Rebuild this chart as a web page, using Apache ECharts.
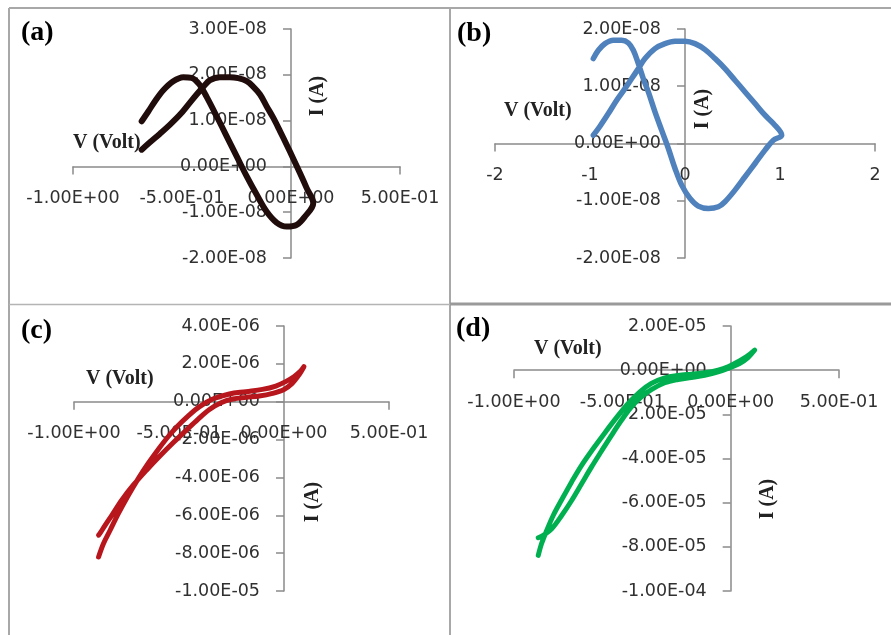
<!DOCTYPE html>
<html><head><meta charset="utf-8">
<script src="https://cdn.jsdelivr.net/npm/echarts@6/dist/echarts.min.js"></script>
<style>html,body{margin:0;padding:0;background:#fff}#c{width:891px;height:635px}</style>
</head><body><div id="c"></div>
<script>
// ---------- text ----------
const panelLabels = ['(a)', '(b)', '(c)', '(d)'];
const xAxisTitle = 'V (Volt)';
const yAxisTitle = 'I (A)';

// ---------- axis ranges / ticks ----------
const xRanges = [[-1, 0.5, 0.5], [-2, 2, 1], [-1, 0.5, 0.5], [-1, 0.5, 0.5]];
const yRanges = [[-2e-8, 3e-8, 1e-8], [-2e-8, 2e-8, 1e-8], [-1e-5, 4e-6, 2e-6], [-1e-4, 2e-5, 2e-5]];

// ---------- data (V in volts, I in amperes) ----------
// (a)
const aV = [-0.685,-0.654,-0.624,-0.586,-0.540,-0.494,-0.456,-0.420,-0.387,-0.341,-0.295,-0.249,-0.203,-0.157,-0.112,-0.066,-0.020,0.026,0.064,0.102,
            0.072,0.041,0.011,-0.020,-0.050,-0.081,-0.112,-0.142,-0.173,-0.203,-0.242,-0.280,-0.326,-0.372,-0.402,-0.433,-0.471,-0.509,-0.555,-0.601,-0.647,-0.685];
const aI = [0.985e-8,1.204e-8,1.423e-8,1.664e-8,1.861e-8,1.949e-8,1.934e-8,1.788e-8,1.518e-8,1.095e-8,0.657e-8,0.219e-8,-0.219e-8,-0.620e-8,-0.985e-8,-1.226e-8,-1.314e-8,-1.277e-8,-1.095e-8,-0.803e-8,
            -0.474e-8,-0.146e-8,0.161e-8,0.474e-8,0.766e-8,1.058e-8,1.314e-8,1.569e-8,1.737e-8,1.861e-8,1.927e-8,1.949e-8,1.949e-8,1.883e-8,1.737e-8,1.569e-8,1.350e-8,1.131e-8,0.912e-8,0.715e-8,0.526e-8,0.365e-8];
// (b)
const bV = [-0.965,-0.912,-0.842,-0.754,-0.667,-0.596,-0.544,-0.491,-0.439,-0.386,-0.316,-0.246,-0.175,-0.105,-0.035,0.053,0.140,0.246,0.351,0.421,0.526,0.632,0.737,0.842,0.930,1.018,
            0.930,0.842,0.737,0.632,0.526,0.421,0.316,0.211,0.105,0.0,-0.105,-0.211,-0.316,-0.421,-0.491,-0.561,-0.632,-0.719,-0.807,-0.895,-0.965];
const bI = [1.483e-8,1.628e-8,1.744e-8,1.802e-8,1.802e-8,1.756e-8,1.628e-8,1.395e-8,1.134e-8,0.901e-8,0.552e-8,0.233e-8,-0.087e-8,-0.436e-8,-0.727e-8,-0.959e-8,-1.093e-8,-1.134e-8,-1.105e-8,-1.017e-8,-0.814e-8,-0.581e-8,-0.349e-8,-0.116e-8,0.058e-8,0.145e-8,
            0.349e-8,0.494e-8,0.698e-8,0.901e-8,1.105e-8,1.308e-8,1.483e-8,1.640e-8,1.744e-8,1.785e-8,1.785e-8,1.744e-8,1.657e-8,1.483e-8,1.308e-8,1.134e-8,0.959e-8,0.756e-8,0.523e-8,0.302e-8,0.145e-8];
// (c)
const cV = [-0.883,-0.860,-0.828,-0.789,-0.741,-0.694,-0.647,-0.599,-0.552,-0.505,-0.457,-0.402,-0.339,-0.260,-0.181,-0.103,-0.039,0.008,0.047,0.079,0.095,
            0.071,0.039,0.0,-0.055,-0.118,-0.181,-0.244,-0.300,-0.355,-0.410,-0.465,-0.528,-0.591,-0.655,-0.718,-0.773,-0.820,-0.852,-0.875,-0.883];
const cI = [-8.20e-6,-7.50e-6,-6.79e-6,-5.91e-6,-4.94e-6,-4.06e-6,-3.26e-6,-2.52e-6,-1.85e-6,-1.27e-6,-0.76e-6,-0.26e-6,0.14e-6,0.41e-6,0.53e-6,0.65e-6,0.83e-6,1.06e-6,1.32e-6,1.62e-6,1.85e-6,
            1.41e-6,0.97e-6,0.65e-6,0.44e-6,0.30e-6,0.23e-6,0.14e-6,-0.05e-6,-0.41e-6,-0.93e-6,-1.50e-6,-2.17e-6,-2.87e-6,-3.62e-6,-4.41e-6,-5.20e-6,-6.00e-6,-6.53e-6,-6.93e-6,-7.05e-6];
// (d)
const dV = [-0.888,-0.873,-0.849,-0.819,-0.780,-0.734,-0.688,-0.634,-0.581,-0.527,-0.473,-0.419,-0.366,-0.304,-0.243,-0.181,-0.120,-0.058,-0.012,0.034,0.072,0.111,
            0.080,0.041,-0.005,-0.058,-0.120,-0.181,-0.243,-0.304,-0.366,-0.412,-0.458,-0.504,-0.550,-0.596,-0.642,-0.688,-0.734,-0.780,-0.826,-0.865,-0.888];
const dI = [-8.39e-5,-7.86e-5,-7.26e-5,-6.58e-5,-5.87e-5,-5.06e-5,-4.31e-5,-3.55e-5,-2.84e-5,-2.15e-5,-1.51e-5,-0.98e-5,-0.60e-5,-0.35e-5,-0.24e-5,-0.18e-5,-0.12e-5,0.0,0.15e-5,0.38e-5,0.60e-5,0.91e-5,
            0.57e-5,0.30e-5,0.11e-5,-0.08e-5,-0.23e-5,-0.33e-5,-0.42e-5,-0.57e-5,-0.88e-5,-1.21e-5,-1.66e-5,-2.27e-5,-2.95e-5,-3.66e-5,-4.38e-5,-5.14e-5,-5.90e-5,-6.58e-5,-7.18e-5,-7.48e-5,-7.59e-5];

const seriesV = [aV, bV, cV, dV];
const seriesI = [aI, bI, cI, dI];
const colors = ['#200c0b', '#4f81bd', '#b8161d', '#00b050'];
const widths = [6, 5.5, 5, 5];

// ---------- layout ----------
const grids = [
  {left: 73, top: 29, width: 327, height: 229},
  {left: 495, top: 29, width: 380, height: 229},
  {left: 74, top: 326, width: 315, height: 265},
  {left: 514, top: 326, width: 325, height: 265}
].map(g => Object.assign({outerBoundsMode: 'none', containLabel: false}, g));
const xNamePos = [[0, 14], [-9, 23], [-12, 13], [-20, 11]];
const yNamePos = [[318, 96], [703, 109], [313, 502], [768, 499]];
const labelPos = [[21, 19], [457, 20], [21, 317], [456, 315]];

function sci(v) {
  if (Math.abs(v) < 1e-20) v = 0;
  const s = v.toExponential(2);
  const parts = s.split('e');
  let sign = parts[1][0];
  let d = parts[1].slice(1);
  if (d.length < 2) d = '0' + d;
  return parts[0] + 'E' + sign + d;
}

const labelFont = {fontFamily: 'DejaVu Sans', fontSize: 17.5, color: '#303030'};
const axisLineStyle = {color: '#8a8a8a', width: 1.5};

// axes cross at zero: shift each axis from the grid edge to the other axis' zero
const xAxes = xRanges.map((r, i) => {
  const yr = yRanges[i];
  const shift = grids[i].height * (0 - yr[0]) / (yr[1] - yr[0]);
  return {
    type: 'value', gridIndex: i, min: r[0], max: r[1], interval: r[2], position: 'bottom', offset: -shift,
    splitLine: {show: false},
    axisLine: {show: true, onZero: false, lineStyle: axisLineStyle},
    axisTick: {show: true, length: 8, customValues: [r[0], r[1]], lineStyle: axisLineStyle},
    axisLabel: Object.assign({margin: 23, formatter: i === 1 ? (v => String(Math.round(v))) : sci, showMinLabel: true, showMaxLabel: true, hideOverlap: false}, labelFont),
    name: xAxisTitle, nameLocation: 'start', nameGap: xNamePos[i][0], nameMoveOverlap: false,
    nameTextStyle: {fontFamily: 'Liberation Serif', fontWeight: 'bold', fontSize: 20, color: '#222',
                    align: 'left', verticalAlign: 'bottom', padding: [0, 0, xNamePos[i][1], 0]}
  };
});
const yAxes = yRanges.map((r, i) => {
  const xr = xRanges[i];
  const shift = grids[i].width * (0 - xr[0]) / (xr[1] - xr[0]);
  return {
    type: 'value', gridIndex: i, min: r[0], max: r[1], interval: r[2], position: 'left', offset: -shift,
    splitLine: {show: false},
    axisLine: {show: true, onZero: false, lineStyle: axisLineStyle},
    axisTick: {show: true, length: 8, lineStyle: axisLineStyle},
    axisLabel: Object.assign({margin: 24, formatter: sci, showMinLabel: true, showMaxLabel: true, hideOverlap: false}, labelFont)
  };
});

const series = seriesV.map((V, i) => ({
  type: 'line', xAxisIndex: i, yAxisIndex: i,
  data: V.map((v, k) => [v, seriesI[i][k]]),
  showSymbol: false, smooth: 0.35, silent: true,
  lineStyle: {color: colors[i], width: widths[i], cap: 'round', join: 'round'},
  itemStyle: {color: colors[i]}
}));

const graphics = [
  {type: 'line', shape: {x1: 9, y1: 8, x2: 891, y2: 8}, style: {stroke: '#a8a8a8', lineWidth: 2}},
  {type: 'line', shape: {x1: 9, y1: 8, x2: 9, y2: 635}, style: {stroke: '#a8a8a8', lineWidth: 2}},
  {type: 'line', shape: {x1: 450, y1: 8, x2: 450, y2: 635}, style: {stroke: '#a8a8a8', lineWidth: 2}},
  {type: 'line', shape: {x1: 9, y1: 304.5, x2: 450, y2: 304.5}, style: {stroke: '#b4b4b4', lineWidth: 1.5}},
  {type: 'line', shape: {x1: 450, y1: 304, x2: 891, y2: 304}, style: {stroke: '#9a9a9a', lineWidth: 3}}
];
yNamePos.forEach(p => graphics.push({
  type: 'text', x: p[0], y: p[1], rotation: Math.PI / 2,
  style: {text: yAxisTitle, fontFamily: 'Liberation Serif', fontWeight: 'bold', fontSize: 20, fill: '#222',
          align: 'center', verticalAlign: 'middle'}
}));

const titles = panelLabels.map((t, i) => ({
  text: t, left: labelPos[i][0], top: labelPos[i][1], padding: 0,
  textStyle: {fontFamily: 'Liberation Serif', fontWeight: 'bold', fontSize: 28, color: '#000'}
}));

const chart = echarts.init(document.getElementById('c'), null, {renderer: 'canvas'});
chart.setOption({
  animation: false,
  backgroundColor: '#fff',
  title: titles,
  grid: grids,
  xAxis: xAxes,
  yAxis: yAxes,
  series: series,
  graphic: graphics
});
</script></body></html>
